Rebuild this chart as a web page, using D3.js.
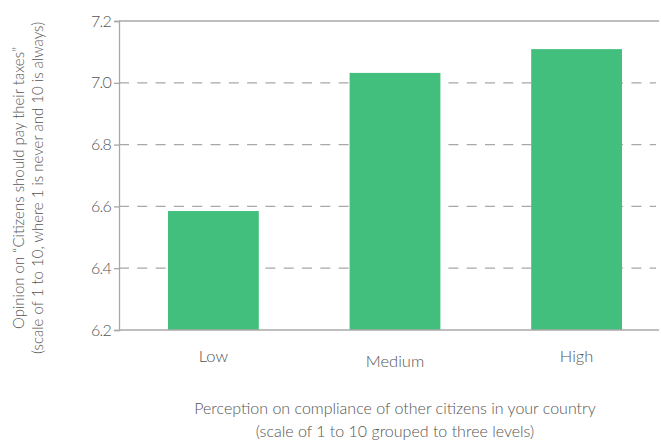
<!DOCTYPE html>
<html>
<head>
<meta charset="utf-8">
<script src="https://cdn.jsdelivr.net/npm/d3@7"></script>
<style>
  html, body { margin: 0; padding: 0; background: #fff; }
  svg { display: block; font-family: Lato, "Open Sans", sans-serif; font-weight: 300; }
</style>
</head>
<body>
<svg id="chart" width="661" height="441"></svg>
<script>
const categories = ["Low", "Medium", "High"];
const values = [6.585, 7.032, 7.109];
const yTicks = [6.2, 6.4, 6.6, 6.8, 7.0, 7.2];
const labelOffsets = [0, 5, 0];
const yTitle = ["Opinion on \u201cCitizens should pay their taxes\u201d", "(scale of 1 to 10, where 1 is never and 10 is always)"];
const xTitle = ["Perception on compliance of other citizens in your country", "(scale of 1 to 10 grouped to three levels)"];

const svg = d3.select("#chart");
const mLeft = 119, mRight = 659, mTop = 21, mBottom = 330;
const green = "#42bf7c", axisCol = "#a8a8a8", textCol = "#555";

const y = d3.scaleLinear().domain([6.2, 7.2]).range([mBottom, mTop]);
const x = d3.scaleBand().domain(categories).range([168, 622]).paddingInner(0.5).paddingOuter(0);

// dashed grid
svg.append("g").selectAll("line").data(yTicks.filter(t => t > 6.2 && t < 7.2)).join("line")
  .attr("x1", mLeft).attr("x2", 656)
  .attr("y1", d => y(d)).attr("y2", d => y(d))
  .attr("stroke", axisCol).attr("stroke-width", 1.3).attr("stroke-dasharray", "10,8.3");

// top solid line
svg.append("line").attr("x1", mLeft).attr("x2", mRight).attr("y1", y(7.2)).attr("y2", y(7.2))
  .attr("stroke", axisCol).attr("stroke-width", 1.3);

// bars
svg.append("g").selectAll("rect").data(values).join("rect")
  .attr("x", (d, i) => x(categories[i]))
  .attr("width", x.bandwidth())
  .attr("y", d => y(d))
  .attr("height", d => y(6.2) - y(d))
  .attr("fill", green);

// y axis
const yAxis = svg.append("g").attr("transform", `translate(${mLeft},0)`)
  .call(d3.axisLeft(y).tickValues(yTicks).tickFormat(d3.format(".1f")).tickSize(5).tickPadding(3));
yAxis.select(".domain").attr("stroke", axisCol).attr("stroke-width", 1.3);
yAxis.selectAll(".tick line").attr("stroke", axisCol).attr("stroke-width", 1.3);
yAxis.selectAll(".tick text").attr("fill", textCol).attr("font-size", 16)
  .attr("font-family", "Lato, sans-serif").attr("font-weight", 300).attr("letter-spacing", "-0.8px");

// bottom axis line
svg.append("line").attr("x1", mLeft).attr("x2", mRight).attr("y1", mBottom).attr("y2", mBottom)
  .attr("stroke", axisCol).attr("stroke-width", 1.3);

// x labels
svg.append("g").selectAll("text").data(categories).join("text")
  .attr("x", d => x(d) + x.bandwidth() / 2)
  .attr("y", (d, i) => 362 + labelOffsets[i])
  .attr("text-anchor", "middle")
  .attr("fill", textCol).attr("font-size", 16.5)
  .text(d => d);

// x title
svg.append("g").selectAll("text").data(xTitle).join("text")
  .attr("x", 395).attr("y", (d, i) => 414 + i * 23)
  .attr("text-anchor", "middle").attr("fill", textCol).attr("font-size", 16)
  .text(d => d);

// y title
svg.append("g").selectAll("text").data(yTitle).join("text")
  .attr("transform", (d, i) => `translate(${24 + i * 19},188) rotate(-90)`)
  .attr("text-anchor", "middle").attr("fill", textCol).attr("font-size", 15)
  .text(d => d);
</script>
</body>
</html>
